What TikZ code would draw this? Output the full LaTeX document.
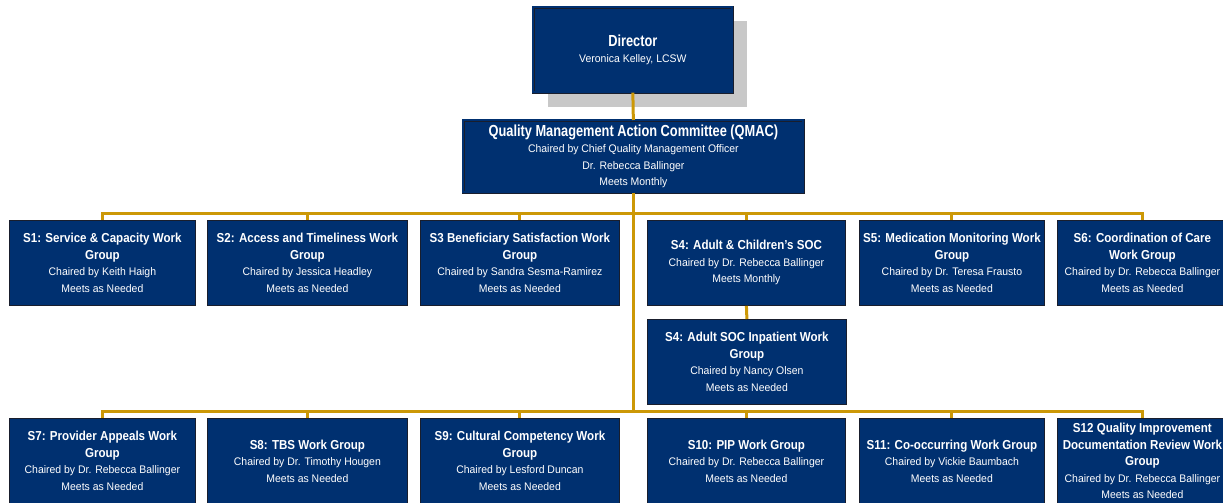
\documentclass[tikz,border=0pt]{standalone}
\usepackage{fontspec}
\setmainfont{Liberation Sans}[FakeStretch=0.8]
\newfontfamily\subfam{Liberation Sans}[FakeStretch=0.95]
\newfontfamily\headfam{Liberation Sans}[FakeStretch=0.89]
\definecolor{navy}{RGB}{0,48,112}
\definecolor{edge}{RGB}{25,30,45}
\definecolor{gold}{RGB}{204,152,6}
\definecolor{shade}{RGB}{200,200,200}
\newcommand{\tf}{\headfam\fontsize{13}{16.5}\selectfont\bfseries}
\newcommand{\bigtf}{\rmfamily\fontsize{16}{16.5}\selectfont\bfseries}
\begin{document}
\begin{tikzpicture}[x=1pt,y=-1pt,
  unit/.style={fill=navy, draw=edge, line width=0.8pt, anchor=north west,
    inner sep=0pt, align=center, text=white,
    font=\subfam\fontsize{11}{16.5}\selectfont},
  lead/.style={unit, double=navy, double distance=2pt, line width=0.7pt},
  link/.style={draw=gold, line width=3pt}]
\useasboundingbox (0,0) rectangle (1223,503);

% Director with its drop shadow
\node[fill=shade, anchor=north west, inner sep=0pt,
  minimum width=199pt, minimum height=86pt] (dirshadow) at (548,21) {};
\node[lead, minimum width=199pt, minimum height=85pt] (dir) at (533,7)
  {{\bigtf Director}\\Veronica Kelley, LCSW};

% Quality Management Action Committee
\node[lead, minimum width=340pt, minimum height=72pt] (qmac) at (463,120)
  {{\bigtf Quality Management Action Committee (QMAC)}\\Chaired by Chief Quality Management Officer\\Dr. Rebecca Ballinger\\Meets Monthly};

% First row of work groups
\node[unit, minimum width=186pt, minimum height=85pt] (s1) at (9,220)
  {{\tf S1: Service \& Capacity Work}\\{\tf Group}\\Chaired by Keith Haigh\\Meets as Needed};
\node[unit, minimum width=200pt, minimum height=85pt] (s2) at (207,220)
  {{\tf S2: Access and Timeliness Work}\\{\tf Group}\\Chaired by Jessica Headley\\Meets as Needed};
\node[unit, minimum width=199pt, minimum height=85pt] (s3) at (420,220)
  {{\tf S3 Beneficiary Satisfaction Work}\\{\tf Group}\\Chaired by Sandra Sesma-Ramirez\\Meets as Needed};
\node[unit, minimum width=198pt, minimum height=85pt] (s4) at (647,220)
  {{\tf S4: Adult \& Children’s SOC}\\Chaired by Dr. Rebecca Ballinger\\Meets Monthly};
\node[unit, minimum width=185pt, minimum height=85pt] (s5) at (859,220)
  {{\tf S5: Medication Monitoring Work}\\{\tf Group}\\Chaired by Dr. Teresa Frausto\\Meets as Needed};
\node[unit, minimum width=170pt, minimum height=85pt] (s6) at (1057,220)
  {{\tf S6: Coordination of Care}\\{\tf Work Group}\\Chaired by Dr. Rebecca Ballinger\\Meets as Needed};

% Inpatient group under S4
\node[unit, minimum width=199pt, minimum height=85pt] (s4b) at (647,319)
  {{\tf S4: Adult SOC Inpatient Work}\\{\tf Group}\\Chaired by Nancy Olsen\\Meets as Needed};

% Second row of work groups
\node[unit, minimum width=186pt, minimum height=85pt] (s7) at (9,418)
  {{\tf S7: Provider Appeals Work}\\{\tf Group}\\Chaired by Dr. Rebecca Ballinger\\Meets as Needed};
\node[unit, minimum width=200pt, minimum height=85pt] (s8) at (207,418)
  {{\tf S8: TBS Work Group}\\Chaired by Dr. Timothy Hougen\\Meets as Needed};
\node[unit, minimum width=199pt, minimum height=85pt] (s9) at (420,418)
  {{\tf S9: Cultural Competency Work}\\{\tf Group}\\Chaired by Lesford Duncan\\Meets as Needed};
\node[unit, minimum width=198pt, minimum height=85pt] (s10) at (647,418)
  {{\tf S10: PIP Work Group}\\Chaired by Dr. Rebecca Ballinger\\Meets as Needed};
\node[unit, minimum width=185pt, minimum height=85pt] (s11) at (859,418)
  {{\tf S11: Co-occurring Work Group}\\Chaired by Vickie Baumbach\\Meets as Needed};
\node[unit, minimum width=170pt, minimum height=85pt] (s12) at (1057,418)
  {{\tf S12 Quality Improvement}\\{\tf Documentation Review Work}\\{\tf Group}\\Chaired by Dr. Rebecca Ballinger\\Meets as Needed};

% Connectors
\coordinate (upbar) at (qmac.south |- 0,213);
\coordinate (lowbar) at (qmac.south |- 0,411);
\draw[link] (dir.south) -- (qmac.north);
\draw[link] (qmac.south) -- (lowbar);
\foreach \n in {s1,s2,s3,s4,s5,s6} \draw[link] (upbar) -| (\n.north);
\foreach \n in {s7,s8,s9,s10,s11,s12} \draw[link] (lowbar) -| (\n.north);
\draw[link] (s4.south) -- (s4b.north);
\end{tikzpicture}
\end{document}
